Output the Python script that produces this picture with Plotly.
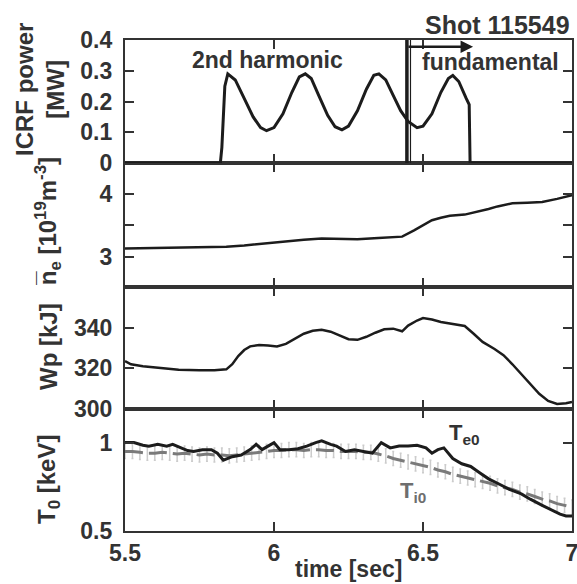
import plotly.graph_objects as go

# ---------------- data ----------------
power_t = [5.50, 5.82, 5.825, 5.835, 5.845, 5.87, 5.90, 5.93, 5.955, 5.975, 6.00, 6.03, 6.06, 6.085,
           6.105, 6.125, 6.15, 6.18, 6.205, 6.228, 6.25, 6.28, 6.31, 6.335, 6.352, 6.375, 6.40,
           6.425, 6.45, 6.48, 6.50, 6.53, 6.56, 6.585, 6.60, 6.62, 6.645, 6.655, 6.658, 7.00]
power_mw = [0, 0, 0.05, 0.25, 0.29, 0.27, 0.21, 0.15, 0.115, 0.105, 0.115, 0.16, 0.23, 0.28,
            0.29, 0.275, 0.22, 0.155, 0.118, 0.108, 0.12, 0.17, 0.24, 0.285, 0.29, 0.27, 0.22,
            0.17, 0.135, 0.115, 0.12, 0.16, 0.23, 0.275, 0.285, 0.265, 0.21, 0.19, 0, 0]

dens_t = [5.50, 5.60, 5.70, 5.80, 5.84, 5.90, 5.96, 6.00, 6.05, 6.10, 6.16, 6.22, 6.28, 6.35,
          6.43, 6.47, 6.50, 6.53, 6.56, 6.59, 6.64, 6.69, 6.72, 6.75, 6.80, 6.85, 6.90, 6.95, 6.99, 7.00]
dens = [3.13, 3.14, 3.14, 3.15, 3.16, 3.18, 3.21, 3.23, 3.25, 3.27, 3.29, 3.28, 3.28, 3.30,
        3.32, 3.42, 3.50, 3.58, 3.62, 3.65, 3.67, 3.72, 3.76, 3.80, 3.85, 3.86, 3.87, 3.92, 3.97, 3.98]

wp_t = [5.50, 5.52, 5.56, 5.62, 5.68, 5.75, 5.80, 5.84, 5.86, 5.88, 5.90, 5.92, 5.95, 5.98, 6.01,
        6.04, 6.07, 6.10, 6.13, 6.16, 6.19, 6.22, 6.25, 6.28, 6.31, 6.34, 6.37, 6.40, 6.43, 6.45,
        6.48, 6.50, 6.53, 6.56, 6.60, 6.64, 6.67, 6.70, 6.74, 6.77, 6.80, 6.83, 6.86, 6.89, 6.92,
        6.95, 6.98, 7.00]
wp_kj = [323.5, 322, 321, 320, 319.3, 319, 319, 319.5, 322, 326, 329, 330.8, 331.5, 331.2, 330.7,
         332, 334.5, 337, 338.5, 339, 338, 336, 334.3, 334, 335.5, 337.5, 339.2, 339.5, 338.2, 341,
         343.5, 344.7, 344, 342.8, 341.8, 340.8, 337, 333, 329.5, 326.5, 322, 317, 312, 307.5, 304,
         302.5, 302.8, 303.5]

te_t = [5.50, 5.53, 5.56, 5.58, 5.61, 5.64, 5.66, 5.69, 5.71, 5.73, 5.76, 5.79, 5.81, 5.83, 5.86,
        5.89, 5.92, 5.94, 5.96, 5.98, 6.00, 6.02, 6.05, 6.08, 6.11, 6.14, 6.16, 6.19, 6.21, 6.24,
        6.27, 6.30, 6.33, 6.36, 6.39, 6.42, 6.45, 6.48, 6.51, 6.53, 6.55, 6.57, 6.60, 6.63, 6.66,
        6.69, 6.72, 6.75, 6.79, 6.83, 6.86, 6.90, 6.93, 6.96, 6.98, 7.00]
te_kev = [1.00, 1.00, 0.985, 0.98, 0.99, 0.98, 0.99, 0.97, 0.955, 0.95, 0.96, 0.96, 0.94, 0.90, 0.92,
          0.93, 0.96, 0.99, 0.96, 0.98, 1.00, 0.96, 0.96, 0.965, 0.98, 1.00, 1.01, 0.99, 0.98, 0.95,
          0.96, 0.95, 0.94, 1.00, 0.97, 0.98, 0.98, 0.985, 0.97, 0.94, 0.96, 0.97, 0.91, 0.88, 0.865,
          0.83, 0.795, 0.77, 0.735, 0.71, 0.68, 0.645, 0.62, 0.595, 0.585, 0.585]

ti_t = [5.500, 5.525, 5.550, 5.575, 5.600, 5.625, 5.650, 5.675, 5.700, 5.725, 5.750, 5.775, 5.800,
        5.825, 5.850, 5.875, 5.900, 5.925, 5.950, 5.975, 6.000, 6.025, 6.050, 6.075, 6.100, 6.125,
        6.150, 6.175, 6.200, 6.225, 6.250, 6.275, 6.300, 6.325, 6.350, 6.375, 6.400, 6.425, 6.450,
        6.475, 6.500, 6.525, 6.550, 6.575, 6.600, 6.625, 6.650, 6.675, 6.700, 6.725, 6.750, 6.775,
        6.800, 6.825, 6.850, 6.875, 6.900, 6.925, 6.950, 6.975, 7.000]
ti_kev = [0.95, 0.95, 0.945, 0.94, 0.94, 0.945, 0.94, 0.935, 0.94, 0.935, 0.93, 0.935, 0.93,
          0.93, 0.925, 0.93, 0.935, 0.94, 0.945, 0.95, 0.955, 0.955, 0.96, 0.96, 0.955, 0.96,
          0.96, 0.955, 0.955, 0.95, 0.95, 0.95, 0.945, 0.945, 0.935, 0.925, 0.91, 0.90, 0.89,
          0.88, 0.87, 0.86, 0.845, 0.835, 0.82, 0.81, 0.80, 0.79, 0.78, 0.77, 0.755, 0.745,
          0.735, 0.72, 0.71, 0.695, 0.68, 0.67, 0.655, 0.645, 0.635]
ti_err = [0.04] * len(ti_t)

x_ticks = [5.5, 6, 6.5, 7]
x_ticklabels = ["5.5", "6", "6.5", "7"]
switch_time = 6.446
arrow_end = 6.668

# ---------------- figure ----------------
FONT = "Liberation Sans, Arial, Helvetica, sans-serif"
TXT = "#333333"
LINE = "#1c1c1c"

fig = go.Figure()
fig.add_trace(go.Scatter(x=power_t, y=power_mw, mode="lines", line=dict(color=LINE, width=3),
                         xaxis="x4", yaxis="y4", showlegend=False))
fig.add_trace(go.Scatter(x=dens_t, y=dens, mode="lines", line=dict(color=LINE, width=2.5),
                         xaxis="x3", yaxis="y3", showlegend=False))
fig.add_trace(go.Scatter(x=wp_t, y=wp_kj, mode="lines", line=dict(color=LINE, width=2.5),
                         xaxis="x2", yaxis="y2", showlegend=False))
fig.add_trace(go.Scatter(x=ti_t, y=ti_kev, mode="lines",
                         line=dict(color="#7a7a7a", width=3, dash="18px,6px"),
                         error_y=dict(type="data", array=ti_err, color="#cccccc", thickness=1.5, width=1),
                         xaxis="x", yaxis="y", showlegend=False))
fig.add_trace(go.Scatter(x=te_t, y=te_kev, mode="lines", line=dict(color=LINE, width=3),
                         xaxis="x", yaxis="y", showlegend=False))

H0, H1, H2 = 0.2485, 0.497, 0.7495
common_x = dict(range=[5.5, 7], tickvals=x_ticks, ticktext=x_ticklabels, ticks="inside",
                ticklen=9, tickwidth=2, tickcolor=TXT, showline=True, linewidth=1.8, linecolor=TXT,
                mirror="ticks", showgrid=False, zeroline=False, automargin=False,
                ticklabeloverflow="allow")
common_y = dict(ticks="inside", ticklen=9, tickwidth=2, tickcolor=TXT, showline=True,
                linewidth=2.2, linecolor=TXT, mirror="ticks", showgrid=False, zeroline=False,
                automargin=False, ticklabeloverflow="allow",
                tickfont=dict(size=23, color=TXT, family=FONT, weight="bold"), ticklabelstandoff=6)

fig.update_layout(
    width=577, height=584,
    margin=dict(l=125, r=5, t=40, b=53, autoexpand=False),
    paper_bgcolor="white", plot_bgcolor="white",
    font=dict(family=FONT, color=TXT, size=23, weight="bold"),
    xaxis=dict(common_x, domain=[0, 1], anchor="y",
               tickfont=dict(size=23, color=TXT, family=FONT, weight="bold")),
    xaxis2=dict(common_x, domain=[0, 1], anchor="y2", matches="x", showticklabels=False),
    xaxis3=dict(common_x, domain=[0, 1], anchor="y3", matches="x", showticklabels=False),
    xaxis4=dict(common_x, domain=[0, 1], anchor="y4", matches="x", showticklabels=False),
    yaxis=dict(common_y, domain=[0, H0], anchor="x", range=[0.5, 1.19],
               tickvals=[0.5, 1], ticktext=["0.5", "1"]),
    yaxis2=dict(common_y, domain=[H0, H1], anchor="x2", range=[300, 360],
                tickvals=[300, 320, 340], ticktext=["300", "320", "340"]),
    yaxis3=dict(common_y, domain=[H1, H2], anchor="x3", range=[2.52, 4.49],
                tickvals=[3, 3.5, 4], ticktext=["3", "", "4"]),
    yaxis4=dict(common_y, domain=[H2, 1], anchor="x4", range=[0, 0.4],
                tickvals=[0, 0.1, 0.2, 0.3, 0.4], ticktext=["0", "0.1", "0.2", "0.3", "0.4"]),
)

# switch line and arrow in the power panel
fig.add_shape(type="line", xref="x4", yref="y4", x0=switch_time, x1=switch_time, y0=0, y1=0.4,
              line=dict(color=LINE, width=3.5))
fig.add_shape(type="line", xref="x4", yref="y4", x0=switch_time + 0.012, x1=switch_time + 0.012,
              y0=0, y1=0.4, line=dict(color=LINE, width=1.2))
fig.add_annotation(xref="x4", yref="y4", axref="x4", ayref="y4", x=arrow_end, y=0.378,
                   ax=switch_time, ay=0.378, showarrow=True, arrowhead=2, arrowsize=1,
                   arrowwidth=2.5, arrowcolor=LINE, text="")

ann_font = dict(family=FONT, color=TXT, weight="bold")
fig.add_annotation(xref="x4", yref="y4", x=5.718, y=0.335, text="2nd harmonic", showarrow=False,
                   xanchor="left", yanchor="middle", font=dict(ann_font, size=23))
fig.add_annotation(xref="x4", yref="y4", x=6.49, y=0.328, text="fundamental", showarrow=False,
                   xanchor="left", yanchor="middle", font=dict(ann_font, size=23))
fig.add_annotation(xref="paper", yref="paper", x=1.0, y=1.0305, text="Shot 115549", showarrow=False,
                   xanchor="right", yanchor="middle", font=dict(ann_font, size=25))

# temperature labels
fig.add_annotation(xref="x", yref="y", x=6.58, y=1.05, text="T<sub>e0</sub>", showarrow=False,
                   xanchor="left", yanchor="middle", font=dict(ann_font, size=22, color=TXT))
fig.add_annotation(xref="x", yref="y", x=6.416, y=0.72, text="T<sub>i0</sub>", showarrow=False,
                   xanchor="left", yanchor="middle", font=dict(ann_font, size=22, color="#6e6e6e"))

# axis titles
fig.add_annotation(xref="paper", yref="paper", x=(40 - 125) / 447, y=(531 - 90) / 491,
                   text="ICRF power<br>[MW]", textangle=-90, showarrow=False,
                   xanchor="center", yanchor="middle", font=dict(ann_font, size=24))
fig.add_annotation(xref="paper", yref="paper", x=(48 - 125) / 447, y=(531 - 222) / 491,
                   text="n\u0305<sub>e</sub> [10<sup>19</sup>m<sup>-3</sup>]", textangle=-90,
                   showarrow=False, xanchor="center", yanchor="middle", font=dict(ann_font, size=24))
fig.add_annotation(xref="paper", yref="paper", x=(48 - 125) / 447, y=(531 - 347) / 491,
                   text="Wp [kJ]", textangle=-90, showarrow=False,
                   xanchor="center", yanchor="middle", font=dict(ann_font, size=24))
fig.add_annotation(xref="paper", yref="paper", x=(48 - 125) / 447, y=(531 - 480) / 491,
                   text="T<sub>0</sub> [keV]", textangle=-90, showarrow=False,
                   xanchor="center", yanchor="middle", font=dict(ann_font, size=24))
fig.add_annotation(xref="paper", yref="paper", x=0.5, y=(531 - 569) / 491,
                   text="time [sec]", showarrow=False,
                   xanchor="center", yanchor="middle", font=dict(ann_font, size=23))

fig.write_html("out.html", config={"displayModeBar": False},
               post_script="document.body.style.margin='0';document.body.style.padding='0';")
